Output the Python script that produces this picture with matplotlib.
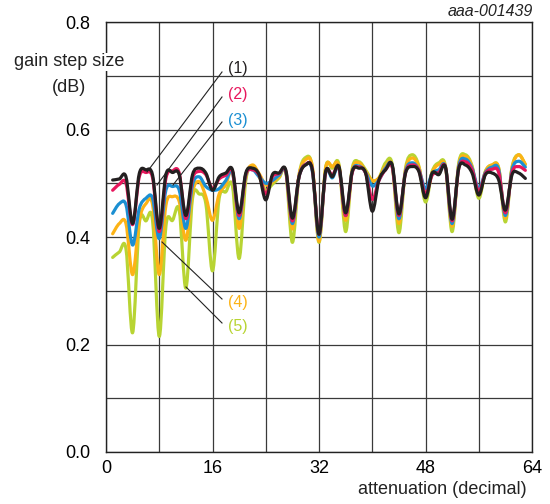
import matplotlib
matplotlib.use("Agg")
import matplotlib.pyplot as plt
from matplotlib.path import Path
from matplotlib.patches import PathPatch
import numpy as np

plt.rcParams['font.family'] = ['Liberation Sans', 'DejaVu Sans']

attenuation = list(range(1, 64))

curve1 = [0.506, 0.508, 0.512, 0.425, 0.518, 0.525, 0.515, 0.416,
          0.516, 0.520, 0.516, 0.440, 0.516, 0.528, 0.519, 0.487,
          0.512, 0.519, 0.525, 0.445, 0.519, 0.528, 0.516, 0.469,
          0.516, 0.519, 0.525, 0.435, 0.512, 0.534, 0.525, 0.405,
          0.522, 0.512, 0.531, 0.445, 0.522, 0.528, 0.519, 0.448,
          0.506, 0.525, 0.534, 0.443, 0.519, 0.531, 0.522, 0.473,
          0.519, 0.516, 0.530, 0.433, 0.528, 0.534, 0.519, 0.478,
          0.516, 0.519, 0.506, 0.450, 0.516, 0.519, 0.509]

curve2 = [0.487, 0.498, 0.500, 0.423, 0.512, 0.520, 0.510, 0.410,
          0.509, 0.523, 0.519, 0.434, 0.509, 0.522, 0.516, 0.490,
          0.508, 0.515, 0.522, 0.440, 0.516, 0.525, 0.515, 0.480,
          0.512, 0.518, 0.523, 0.430, 0.512, 0.535, 0.525, 0.405,
          0.520, 0.515, 0.528, 0.440, 0.520, 0.530, 0.519, 0.470,
          0.505, 0.525, 0.530, 0.440, 0.520, 0.534, 0.524, 0.480,
          0.515, 0.520, 0.530, 0.430, 0.528, 0.540, 0.525, 0.485,
          0.518, 0.526, 0.520, 0.445, 0.520, 0.531, 0.524]

curve3 = [0.444, 0.462, 0.460, 0.385, 0.453, 0.472, 0.472, 0.397,
          0.487, 0.494, 0.487, 0.416, 0.497, 0.512, 0.494, 0.487,
          0.490, 0.505, 0.520, 0.434, 0.515, 0.525, 0.512, 0.500,
          0.505, 0.515, 0.522, 0.425, 0.512, 0.535, 0.522, 0.400,
          0.520, 0.510, 0.528, 0.440, 0.522, 0.532, 0.520, 0.495,
          0.506, 0.528, 0.532, 0.434, 0.522, 0.538, 0.525, 0.490,
          0.518, 0.525, 0.530, 0.425, 0.532, 0.545, 0.528, 0.490,
          0.520, 0.530, 0.525, 0.440, 0.525, 0.541, 0.530]

curve4 = [0.406, 0.425, 0.425, 0.330, 0.431, 0.462, 0.460, 0.330,
          0.459, 0.475, 0.466, 0.394, 0.484, 0.503, 0.475, 0.431,
          0.480, 0.497, 0.522, 0.416, 0.512, 0.534, 0.518, 0.497,
          0.502, 0.512, 0.522, 0.415, 0.515, 0.544, 0.530, 0.392,
          0.528, 0.531, 0.532, 0.431, 0.525, 0.538, 0.522, 0.505,
          0.510, 0.532, 0.532, 0.425, 0.525, 0.547, 0.530, 0.480,
          0.520, 0.535, 0.530, 0.420, 0.535, 0.550, 0.530, 0.478,
          0.522, 0.534, 0.528, 0.435, 0.528, 0.553, 0.535]

curve5 = [0.362, 0.372, 0.378, 0.222, 0.425, 0.430, 0.430, 0.215,
          0.420, 0.431, 0.450, 0.305, 0.472, 0.480, 0.462, 0.337,
          0.472, 0.484, 0.495, 0.360, 0.505, 0.530, 0.512, 0.487,
          0.498, 0.510, 0.522, 0.390, 0.515, 0.548, 0.530, 0.390,
          0.530, 0.528, 0.535, 0.410, 0.528, 0.540, 0.525, 0.505,
          0.510, 0.538, 0.535, 0.408, 0.528, 0.553, 0.532, 0.465,
          0.522, 0.538, 0.532, 0.410, 0.538, 0.553, 0.532, 0.472,
          0.522, 0.534, 0.528, 0.428, 0.530, 0.553, 0.535]

labels = ['(1)', '(2)', '(3)', '(4)', '(5)']
colors = ['#231f20', '#e8175d', '#1b8fd2', '#fcb316', '#b8d433']

W, H = 550, 504
fig = plt.figure(figsize=(W / 100, H / 100), dpi=100)
ax = fig.add_axes([106 / W, 1 - 452 / H, 426 / W, 430 / H])


def smooth_path(xs, ys):
    """Catmull-Rom curve through the data points, drawn as cubic Bezier segments."""
    p = np.column_stack([xs, ys]).astype(float)
    n = len(p)
    verts = [p[0]]
    codes = [Path.MOVETO]
    for i in range(n - 1):
        p0 = p[i - 1] if i > 0 else p[i]
        p1 = p[i]
        p2 = p[i + 1]
        p3 = p[i + 2] if i + 2 < n else p[i + 1]
        c1 = p1 + (p2 - p0) / 6.0
        c2 = p2 - (p3 - p1) / 6.0
        verts += [c1, c2, p2]
        codes += [Path.CURVE4] * 3
    return Path(verts, codes)


series = [curve1, curve2, curve3, curve4, curve5]
for i in [4, 3, 2, 1, 0]:
    patch = PathPatch(smooth_path(attenuation, series[i]), facecolor='none',
                      edgecolor=colors[i], lw=2.3, joinstyle='round', capstyle='round',
                      zorder=3 + (4 - i))
    ax.add_patch(patch)

ax.set_xlim(0, 64)
ax.set_ylim(0, 0.8)
ax.set_xticks([0, 16, 32, 48, 64])
ax.set_xticks([8, 24, 40, 56], minor=True)
ax.set_yticks([0.0, 0.2, 0.4, 0.6, 0.8])
ax.set_yticks([0.1, 0.3, 0.5, 0.7], minor=True)
ax.set_yticklabels(['0.0', '0.2', '0.4', '0.6', '0.8'])
ax.grid(True, which='both', color='#3a3a3a', lw=0.9, zorder=1)
ax.tick_params(which='both', length=0)
ax.tick_params(axis='x', labelsize=13, pad=6)
ax.tick_params(axis='y', labelsize=13, pad=11)
for s in ax.spines.values():
    s.set_color('#222222')
    s.set_linewidth(1.0)


def fx(px):
    return px / W


def fy(py):
    return 1 - py / H


fig.text(fx(69), fy(62), 'gain step size', ha='center', va='center', fontsize=13,
         color='#222222', bbox=dict(facecolor='white', edgecolor='none', pad=0.5), zorder=10)
fig.text(fx(69), fy(87), '(dB)', ha='center', va='center', fontsize=13, color='#222222')
fig.text(fx(527), fy(490), 'attenuation (decimal)', ha='right', va='center', fontsize=13,
         color='#222222')
fig.text(fx(533), fy(12), 'aaa-001439', ha='right', va='center', fontsize=11.5,
         style='italic', color='#222222')

# label leader lines (pixel endpoints)
leaders = [((222, 72), (147, 172)), ((222, 97), (157, 185)), ((222, 122), (173, 185)),
           ((162, 242), (222, 299)), ((186, 287), (222, 323))]
label_pos = [(228, 69), (228, 94), (228, 120), (228, 302), (228, 327)]
for i in range(5):
    (x0, y0), (x1, y1) = leaders[i]
    fig.add_artist(plt.Line2D([fx(x0), fx(x1)], [fy(y0), fy(y1)], transform=fig.transFigure,
                              color='#222222', lw=0.8, zorder=20))
    lx, ly = label_pos[i]
    fig.text(fx(lx), fy(ly), labels[i], ha='left', va='center', fontsize=11.5,
             color=colors[i], zorder=21)

fig.savefig('out.png', dpi=100, facecolor='white')
